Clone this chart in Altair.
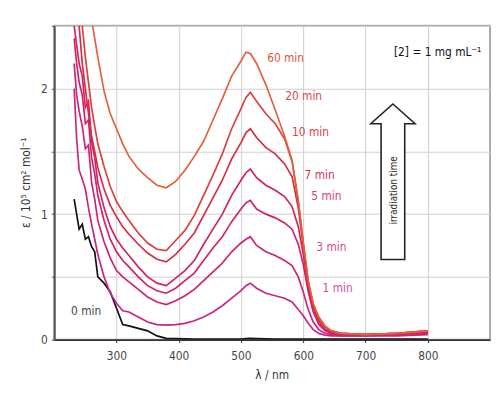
import altair as alt
import pandas as pd

WAVELENGTH = [232, 236, 240, 245, 250, 255, 260, 265, 270, 280, 290, 300, 310, 320,
              335, 350, 365, 380, 395, 410, 425, 440, 455, 470, 485, 500, 508, 515,
              525, 540, 555, 570, 582, 592, 600, 608, 616, 625, 635, 645, 660, 700,
              750, 800]

EPS_60 = [3.4, 3.3, 3.2, 3.1, 2.95, 2.75, 2.55, 2.4, 2.25, 1.98, 1.8, 1.68, 1.56, 1.46,
          1.36, 1.29, 1.23, 1.21, 1.26, 1.35, 1.46, 1.58, 1.75, 1.92, 2.1, 2.22, 2.29, 2.28,
          2.2, 2.03, 1.83, 1.62, 1.43, 1.11, 0.78, 0.47, 0.29, 0.18, 0.11, 0.07, 0.05, 0.04,
          0.05, 0.07]
EPS_20 = [3.1, 2.9, 2.7, 2.5, 2.25, 2.05, 1.85, 1.7, 1.56, 1.38, 1.22, 1.1, 1.02, 0.95,
          0.85, 0.77, 0.72, 0.71, 0.79, 0.87, 0.99, 1.15, 1.31, 1.48, 1.68, 1.84, 1.93, 1.97,
          1.9, 1.8, 1.72, 1.6, 1.42, 1.1, 0.77, 0.46, 0.28, 0.17, 0.1, 0.07, 0.05, 0.04,
          0.05, 0.07]
EPS_10 = [2.9, 2.7, 2.5, 2.2, 2.0, 1.8, 1.62, 1.5, 1.37, 1.2, 1.07, 0.98, 0.9, 0.84,
          0.76, 0.69, 0.64, 0.62, 0.68, 0.76, 0.85, 0.99, 1.13, 1.27, 1.44, 1.57, 1.65, 1.68,
          1.61, 1.53, 1.48, 1.4, 1.3, 1.05, 0.74, 0.44, 0.27, 0.16, 0.1, 0.07, 0.05, 0.04,
          0.05, 0.07]
EPS_7 = [2.5, 2.35, 2.2, 2.1, 1.85, 1.9, 1.58, 1.45, 1.25, 1.05, 0.9, 0.8, 0.73, 0.67,
         0.58, 0.5, 0.45, 0.43, 0.49, 0.55, 0.63, 0.76, 0.88, 1.0, 1.15, 1.27, 1.33, 1.36,
         1.29, 1.23, 1.19, 1.14, 1.06, 0.9, 0.68, 0.42, 0.25, 0.14, 0.08, 0.06, 0.05, 0.04,
         0.05, 0.06]
EPS_5 = [2.4, 2.2, 2.05, 1.95, 1.72, 1.75, 1.45, 1.32, 1.15, 0.95, 0.8, 0.7, 0.63, 0.58,
         0.5, 0.43, 0.39, 0.37, 0.41, 0.47, 0.53, 0.63, 0.73, 0.82, 0.94, 1.04, 1.09, 1.11,
         1.04, 1.0, 0.97, 0.93, 0.88, 0.76, 0.6, 0.38, 0.22, 0.12, 0.07, 0.05, 0.04, 0.04,
         0.04, 0.05]
EPS_3 = [2.2, 1.95, 1.82, 1.7, 1.52, 1.55, 1.25, 1.12, 0.95, 0.78, 0.65, 0.55, 0.5, 0.46,
         0.4, 0.34, 0.3, 0.28, 0.31, 0.35, 0.4, 0.47, 0.54, 0.61, 0.7, 0.77, 0.8, 0.82,
         0.75, 0.7, 0.67, 0.63, 0.59, 0.5, 0.38, 0.24, 0.14, 0.08, 0.05, 0.04, 0.03, 0.03,
         0.04, 0.05]
EPS_1 = [2.0, 1.6, 1.35, 1.28, 1.2, 1.05, 0.92, 0.8, 0.68, 0.5, 0.37, 0.29, 0.23, 0.22,
         0.18, 0.14, 0.12, 0.115, 0.12, 0.13, 0.15, 0.18, 0.22, 0.27, 0.33, 0.39, 0.43, 0.45,
         0.41, 0.37, 0.35, 0.33, 0.3, 0.24, 0.19, 0.13, 0.08, 0.05, 0.035, 0.03, 0.03, 0.03,
         0.03, 0.04]
EPS_0 = [1.12, 1.0, 0.88, 0.92, 0.8, 0.82, 0.74, 0.7, 0.5, 0.45, 0.38, 0.25, 0.12, 0.11,
         0.09, 0.07, 0.03, 0.01, 0.008, 0.006, 0.005, 0.005, 0.005, 0.005, 0.005, 0.005, 0.008, 0.01,
         0.008, 0.006, 0.005, 0.005, 0.005, 0.005, 0.005, 0.005, 0.005, 0.005, 0.005, 0.005, 0.005, 0.005,
         0.005, 0.005]

SERIES = ["0 min", "1 min", "3 min", "5 min", "7 min", "10 min", "20 min", "60 min"]
SERIES_VALUES = [EPS_0, EPS_1, EPS_3, EPS_5, EPS_7, EPS_10, EPS_20, EPS_60]
LINE_COLORS = ["#111111", "#cc2288", "#cf217a", "#d1216c", "#d3225c", "#da2a46", "#dd3f3c", "#e2603a"]

LABEL_TEXT = ["60 min", "20 min", "10 min", "7 min", "5 min", "3 min", "1 min", "0 min"]
LABEL_WL = [542, 571, 582, 602, 613, 621, 631, 227]
LABEL_EPS = [2.24, 1.94, 1.65, 1.31, 1.14, 0.74, 0.41, 0.23]
LABEL_COLORS = ["#d9573a", "#e0453f", "#e0383f", "#d9305a", "#dc3a7a", "#d8458e", "#d84a9c", "#444444"]

FONT = "Liberation Sans Narrow, DejaVu Sans Condensed, Roboto, sans-serif"

X_DOMAIN = [200, 900]
Y_DOMAIN = [0, 2.5]

xs = alt.Scale(domain=X_DOMAIN, nice=False, zero=False)
ys = alt.Scale(domain=Y_DOMAIN, nice=False)

X_AXIS = alt.Axis(values=[300, 400, 500, 600, 700, 800], title="λ / nm",
                  grid=True, gridColor="#cfcfcf", gridWidth=1,
                  domainColor="#333333", domainWidth=2,
                  tickColor="#333333", tickSize=3, labelPadding=8,
                  labelFont=FONT, labelFontSize=12, labelColor="#444444",
                  titleFont=FONT, titleFontSize=12, titleColor="#333333",
                  titleFontWeight="normal", titleX=221, titleY=36,
                  titleBaseline="middle")
Y_AXIS = alt.Axis(values=[0, 0.5, 1, 1.5, 2, 2.5],
                  labelExpr="datum.value % 1 == 0 ? format(datum.value, 'd') : ''",
                  title="ε / 10⁵ cm² mol⁻¹",
                  grid=True, gridColor="#cfcfcf", gridWidth=1,
                  domainColor="#555555", domainWidth=2,
                  tickColor="#555555", tickSize=3, labelPadding=4,
                  labelFont=FONT, labelFontSize=12, labelColor="#444444",
                  titleFont=FONT, titleFontSize=12, titleColor="#333333",
                  titleFontWeight="normal", titleX=-29, titleY=159,
                  titleAngle=270, titleAlign="center", titleBaseline="middle")

X_ENC = alt.X("wl:Q", scale=xs, axis=X_AXIS)
Y_ENC = alt.Y("eps:Q", scale=ys, axis=Y_AXIS)

layers = []
for i, (name, vals) in enumerate(zip(SERIES, SERIES_VALUES)):
    df = pd.DataFrame({"wl": WAVELENGTH[:len(vals)], "eps": vals, "series": name})
    layers.append(
        alt.Chart(df).mark_line(clip=True, strokeWidth=1.7, color=LINE_COLORS[i]).encode(
            x=X_ENC, y=Y_ENC)
    )

labels_df = pd.DataFrame({"wl": LABEL_WL, "eps": LABEL_EPS, "text": LABEL_TEXT})
labels = alt.Chart(labels_df).mark_text(align="left", baseline="middle", font=FONT,
                                        fontSize=12).encode(
    x=X_ENC, y=Y_ENC,
    text="text:N",
    color=alt.Color("text:N", scale=alt.Scale(domain=LABEL_TEXT, range=LABEL_COLORS), legend=None),
)

conc_df = pd.DataFrame({"wl": [886], "eps": [2.29], "text": ["[2] = 1 mg mL⁻¹"]})
conc = alt.Chart(conc_df).mark_text(align="right", baseline="middle", font=FONT,
                                    fontSize=12, color="#111111").encode(
    x=X_ENC, y=Y_ENC, text="text:N",
)

ARROW_SHAPE = "M0,-1L0.285,-0.747L0.152,-0.747L0.152,1L-0.152,1L-0.152,-0.747L-0.285,-0.747Z"
arrow_df = pd.DataFrame({"wl": [744], "eps": [1.258]})
arrow = alt.Chart(arrow_df).mark_point(shape=ARROW_SHAPE, size=24964, filled=True,
                                       fill="white", stroke="#222222", strokeWidth=1.6,
                                       opacity=1).encode(x=X_ENC, y=Y_ENC)

arrow_text_df = pd.DataFrame({"wl": [746], "eps": [1.19], "text": ["irradiation time"]})
arrow_text = alt.Chart(arrow_text_df).mark_text(angle=270, align="center", baseline="middle",
                                                font=FONT, fontSize=10, color="#222222").encode(
    x=X_ENC, y=Y_ENC, text="text:N",
)

chart = alt.layer(*layers, labels, conc, arrow, arrow_text).properties(
    width=443, height=319,
    autosize=alt.AutoSizeParams(type="none"),
    padding={"left": 47, "top": 15, "right": 2, "bottom": 44},
    background="white",
).configure_view(stroke="#aaaaaa", strokeWidth=2)

chart.save("out.html", embed_options={"renderer": "svg", "actions": False})
